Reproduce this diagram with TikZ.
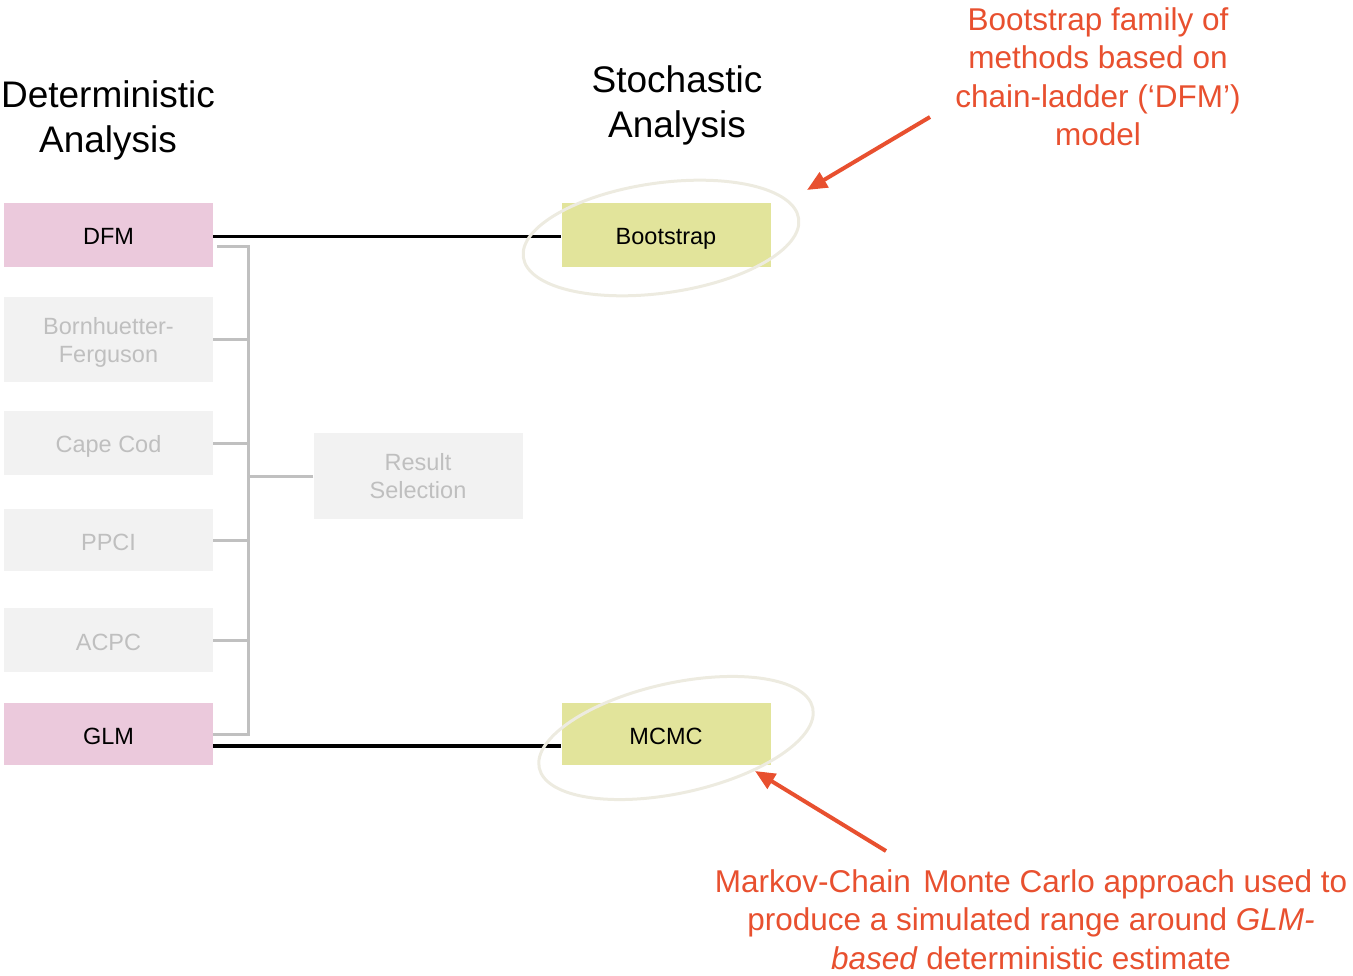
\documentclass[tikz,border=0pt]{standalone}
\usepackage{fontspec}
\setmainfont{Liberation Sans}
\usetikzlibrary{arrows.meta,calc}
\definecolor{pinkbox}{HTML}{EBC9DC}
\definecolor{greenbox}{HTML}{E2E49B}
\definecolor{graybox}{HTML}{F2F2F2}
\definecolor{graytext}{HTML}{BFBFBF}
\definecolor{grayline}{HTML}{C0C0C0}
\definecolor{annot}{HTML}{E8502F}
\definecolor{ellcol}{HTML}{EDEBE0}
\begin{document}
\begin{tikzpicture}[x=1pt,y=-1pt,
  box/.style={minimum width=209pt, inner sep=0pt, align=center,
    font=\fontsize{23.5}{28}\selectfont},
  oneline/.style={text height=20pt, text depth=0pt},
  detbox/.style={box, fill=pinkbox, text=black},
  stobox/.style={box, fill=greenbox, text=black},
  offbox/.style={box, fill=graybox, text=graytext},
  title/.style={align=center, font=\fontsize{37}{45}\selectfont},
  note/.style={align=center, text=annot, font=\fontsize{31.5}{38.5}\selectfont},
  grayconn/.style={draw=grayline, line width=3pt},
  blackconn/.style={draw=black, line width=3pt},
  ring/.style={draw=ellcol, line width=3pt},
  pointer/.style={draw=annot, line width=4pt, -{Triangle[length=20pt,width=17pt]}}]
\useasboundingbox (0,0) rectangle (1353,976);

% titles
\node[title] (dettitle) at (108,120.5) {Deterministic\\Analysis};
\node[title] (stotitle) at (677,105.5) {Stochastic\\Analysis};

% deterministic boxes
\node[detbox, oneline, minimum height=64pt] (dfm) at (108.5,235) {DFM};
\node[offbox, text depth=-1pt, minimum height=85pt] (bf) at (108.5,339.5) {Bornhuetter-\\Ferguson};
\node[offbox, oneline, minimum height=64pt] (cc) at (108.5,443) {Cape Cod};
\node[offbox, oneline, minimum height=62pt] (ppci) at (108.5,540) {PPCI};
\node[offbox, oneline, minimum height=64pt] (acpc) at (108.5,640) {ACPC};
\node[detbox, oneline, minimum height=62pt] (glm) at (108.5,734) {GLM};
\node[offbox, minimum height=86pt] (rs) at (418,476) {Result\\Selection};

% stochastic boxes
\node[stobox, oneline, minimum height=64pt] (boot) at (666,235) {Bootstrap};
\node[stobox, oneline, minimum height=62pt] (mcmc) at (666,734) {MCMC};

% gray connectors
\coordinate (bus) at (248,0);
\draw[grayconn] ($(dfm.east)+(4,12)$) -- ($(dfm.east |- bus)+(35,247)$) |- (glm.east);
\draw[grayconn] (bf.east) -- (bf.east -| bus);
\draw[grayconn] (cc.east) -- (cc.east -| bus);
\draw[grayconn] (ppci.east) -- (ppci.east -| bus);
\draw[grayconn] (acpc.east) -- (acpc.east -| bus);
\draw[grayconn] (rs.west) -- (rs.west -| bus);

% black connectors
\draw[blackconn] ([yshift=-2pt]dfm.east) -- ([yshift=-2pt]boot.west);
\draw[blackconn, line width=4.5pt] ([yshift=-12pt]glm.east) -- ([yshift=-12pt]mcmc.west);

% highlight rings
\draw[ring, rotate around={8:(661,238)}] (661,238) ellipse [x radius=139, y radius=55];
\draw[ring, rotate around={12.4:(676,738)}] (676,738) ellipse [x radius=140, y radius=55];

% annotations
\node[note] (note1) at (1098,76.5) {Bootstrap family of\\methods based on\\chain-ladder (‘DFM’)\\model};
\node[note] (note2) at (1031,919.5) {Markov-Chain\hspace{0.12em} Monte Carlo approach used to\\produce a simulated range around \textit{GLM-}\\\textit{based} deterministic estimate};

\coordinate (a1s) at (930,117);
\coordinate (a1e) at (807,190);
\coordinate (a2s) at (886,851);
\coordinate (a2e) at (755,771);
\draw[pointer] (a1s) -- (a1e);
\draw[pointer] (a2s) -- (a2e);
\end{tikzpicture}
\end{document}
